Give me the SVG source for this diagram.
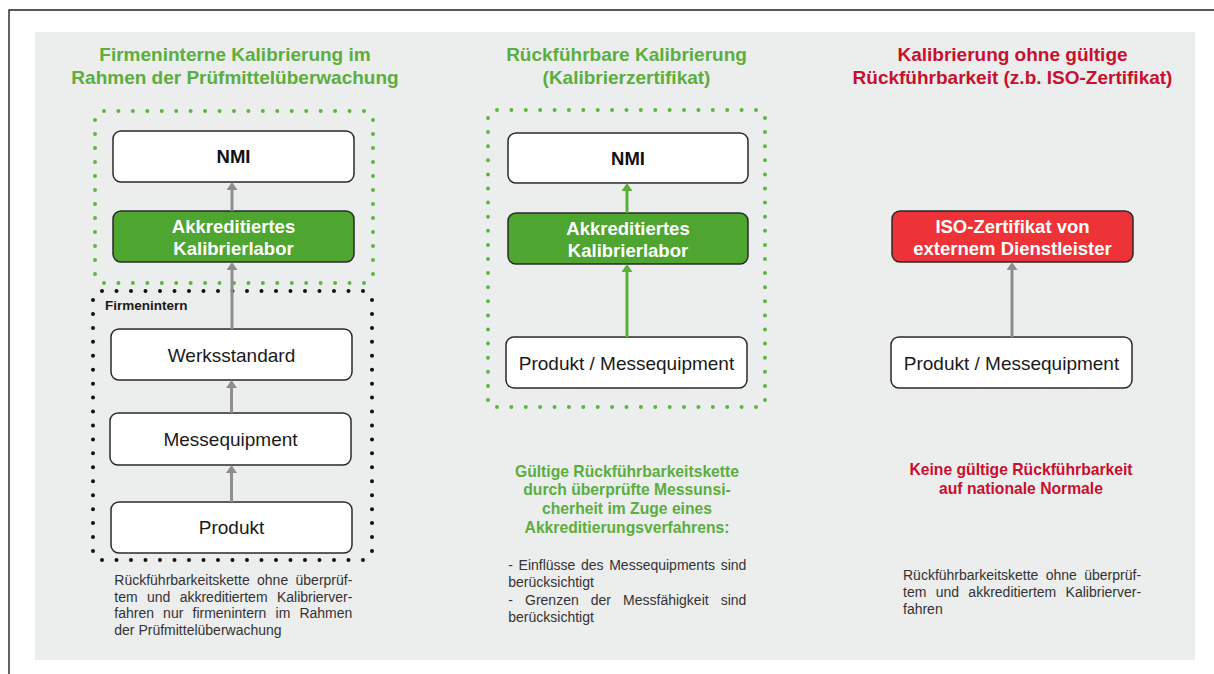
<svg xmlns="http://www.w3.org/2000/svg" width="1214" height="674" viewBox="0 0 1214 674">
<defs>
<style>
text{font-family:"Liberation Sans",Arial,sans-serif}
.ttl{font-size:19px;font-weight:bold;text-anchor:middle}
.g{fill:#5BAE3F}
.r{fill:#C8102E}
.box{stroke:#2a2a2a;stroke-width:1.5}
.wb{fill:#ffffff}
.gb{fill:#4EA52F}
.rb{fill:#EE3338}
.nt{font-size:19px;fill:#1a1a1a;text-anchor:middle}
.nb{font-size:18.5px;font-weight:bold;text-anchor:middle}
.cap{font-size:14px;fill:#333333}
.sub{font-size:15.7px;font-weight:bold;text-anchor:middle}
.dg{fill:none;stroke:#5DB542;stroke-width:4;stroke-linecap:round}
.dk{fill:none;stroke:#111111;stroke-width:4;stroke-linecap:round}
.ag{stroke:#8E8E8E;stroke-width:3;fill:none}
.agr{stroke:#5AB036;stroke-width:3;fill:none}
</style>
<marker id="hg" viewBox="0 0 8 11" refX="0" refY="5.5" markerWidth="8" markerHeight="11" markerUnits="userSpaceOnUse" orient="auto"><path d="M0,0 L8,5.5 L0,11 z" fill="#8E8E8E"/></marker>
<marker id="hgr" viewBox="0 0 8 11" refX="0" refY="5.5" markerWidth="8" markerHeight="11" markerUnits="userSpaceOnUse" orient="auto"><path d="M0,0 L8,5.5 L0,11 z" fill="#5AB036"/></marker>
</defs>

<rect x="0" y="0" width="1214" height="674" fill="#ffffff"/>
<path d="M9,674 V10 H1214" fill="none" stroke="#222222" stroke-width="1.4"/>
<rect x="35" y="32" width="1160" height="628" fill="#ECEDED"/>

<!-- Titles -->
<g id="title-left">
<text class="ttl g" x="235" y="61">Firmeninterne Kalibrierung im</text>
<text class="ttl g" x="235" y="83.5">Rahmen der Prüfmittelüberwachung</text>
</g>
<g id="title-middle">
<text class="ttl g" x="626.5" y="61">Rückführbare Kalibrierung</text>
<text class="ttl g" x="626.5" y="83.5">(Kalibrierzertifikat)</text>
</g>
<g id="title-right">
<text class="ttl r" x="1012.5" y="61">Kalibrierung ohne gültige</text>
<text class="ttl r" x="1012.5" y="83.5">Rückführbarkeit (z.b. ISO-Zertifikat)</text>
</g>

<!-- Dotted groupings -->
<g id="group-left-green">
<path class="dg" d="M104,111 H364 M104,283 H364" stroke-dasharray="0 14.443"/>
<path class="dg" d="M95,120 V274 M373,120 V274" stroke-dasharray="0 13.999"/>
</g>
<g id="group-firmenintern">
<path class="dk" d="M102,291 H363 M102,560 H363" stroke-dasharray="0 14.499"/>
<path class="dk" d="M93,300 V551 M372,300 V551" stroke-dasharray="0 13.943"/>
<text x="105" y="310" font-size="13.5" font-weight="bold" fill="#1a1a1a">Firmenintern</text>
</g>
<g id="group-middle-green">
<path class="dg" d="M497,110 H756 M497,407 H756" stroke-dasharray="0 14.388"/>
<path class="dg" d="M488,118 V400 M765,118 V400" stroke-dasharray="0 14.099"/>
</g>

<!-- Left column nodes -->
<g id="l-nmi">
<rect class="box wb" x="113" y="131" width="241" height="51" rx="8"/>
<text class="nb" x="233.5" y="163" fill="#111111">NMI</text>
</g>
<g id="l-labor">
<rect class="box gb" x="113" y="211" width="241" height="51" rx="8"/>
<text class="nb" x="233.5" y="233" fill="#ffffff">Akkreditiertes</text>
<text class="nb" x="233.5" y="255" fill="#ffffff">Kalibrierlabor</text>
</g>
<g id="l-werksstandard">
<rect class="box wb" x="111" y="329" width="241" height="51" rx="8"/>
<text class="nt" x="231.5" y="361.5">Werksstandard</text>
</g>
<g id="l-messequipment">
<rect class="box wb" x="110" y="413" width="241" height="52" rx="8"/>
<text class="nt" x="230.5" y="446">Messequipment</text>
</g>
<g id="l-produkt">
<rect class="box wb" x="111" y="502" width="241" height="51" rx="8"/>
<text class="nt" x="231.5" y="534">Produkt</text>
</g>

<!-- Middle column nodes -->
<g id="m-nmi">
<rect class="box wb" x="508" y="133" width="240" height="50" rx="8"/>
<text class="nb" x="628" y="164.5" fill="#111111">NMI</text>
</g>
<g id="m-labor">
<rect class="box gb" x="508" y="213" width="240" height="51" rx="8"/>
<text class="nb" x="628" y="235" fill="#ffffff">Akkreditiertes</text>
<text class="nb" x="628" y="257" fill="#ffffff">Kalibrierlabor</text>
</g>
<g id="m-produkt">
<rect class="box wb" x="506" y="337" width="241" height="51" rx="8"/>
<text class="nt" x="626.5" y="369.5">Produkt / Messequipment</text>
</g>

<!-- Right column nodes -->
<g id="r-iso">
<rect class="box rb" x="892" y="211" width="241" height="51" rx="8"/>
<text class="nb" x="1012.5" y="233" fill="#ffffff">ISO-Zertifikat von</text>
<text class="nb" x="1012.5" y="255" fill="#ffffff">externem Dienstleister</text>
</g>
<g id="r-produkt">
<rect class="box wb" x="891" y="337" width="241" height="51" rx="8"/>
<text class="nt" x="1011.5" y="369.5">Produkt / Messequipment</text>
</g>

<!-- Connectors -->
<g id="connectors">
<line class="ag" x1="232" y1="211" x2="232" y2="190" marker-end="url(#hg)"/>
<line class="ag" x1="232" y1="329" x2="232" y2="270" marker-end="url(#hg)"/>
<line class="ag" x1="231.5" y1="413" x2="231.5" y2="388" marker-end="url(#hg)"/>
<line class="ag" x1="231.5" y1="502" x2="231.5" y2="473" marker-end="url(#hg)"/>
<line class="agr" x1="627" y1="213" x2="627" y2="191" marker-end="url(#hgr)"/>
<line class="agr" x1="627" y1="337" x2="627" y2="272" marker-end="url(#hgr)"/>
<line class="ag" x1="1012" y1="337" x2="1012" y2="270" marker-end="url(#hg)"/>
</g>

<!-- Captions -->
<g id="caption-left">
<text class="cap" x="114.3" y="585" word-spacing="3.46">Rückführbarkeitskette ohne überprüf-</text>
<text class="cap" x="114.3" y="601.7" word-spacing="5.44">tem und akkreditiertem Kalibrierver-</text>
<text class="cap" x="114.3" y="618.3" word-spacing="5.24">fahren nur firmenintern im Rahmen</text>
<text class="cap" x="114.3" y="635">der Prüfmittelüberwachung</text>
</g>
<g id="caption-middle">
<text class="sub g" x="627" y="476.5">Gültige Rückführbarkeitskette</text>
<text class="sub g" x="627" y="495.3">durch überprüfte Messunsi-</text>
<text class="sub g" x="627" y="514">cherheit im Zuge eines</text>
<text class="sub g" x="627" y="532.7">Akkreditierungsverfahrens:</text>
<text class="cap" x="508.3" y="570" word-spacing="1.73">- Einflüsse des Messequipments sind</text>
<text class="cap" x="508.3" y="587.3">berücksichtigt</text>
<text class="cap" x="508.3" y="604.5" word-spacing="8.16">- Grenzen der Messfähigkeit sind</text>
<text class="cap" x="508.3" y="621.5">berücksichtigt</text>
</g>
<g id="caption-right">
<text class="sub r" x="1021" y="475">Keine gültige Rückführbarkeit</text>
<text class="sub r" x="1021" y="494">auf nationale Normale</text>
<text class="cap" x="903" y="579.5" word-spacing="3.46">Rückführbarkeitskette ohne überprüf-</text>
<text class="cap" x="903" y="596.8" word-spacing="5.44">tem und akkreditiertem Kalibrierver-</text>
<text class="cap" x="903" y="614">fahren</text>
</g>
</svg>
